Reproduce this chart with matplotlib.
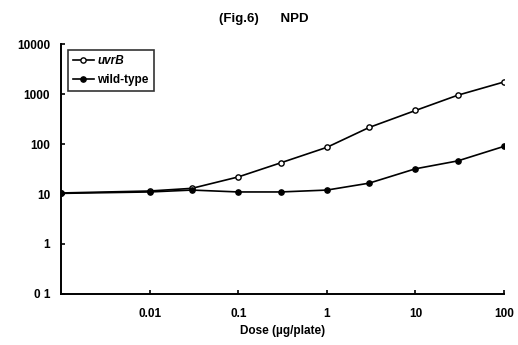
import numpy as np
import matplotlib
matplotlib.use("Agg")
import matplotlib.pyplot as plt

plt.rcParams['font.family'] = ['Liberation Sans', 'DejaVu Sans']

dose = [0.001, 0.01, 0.03, 0.1, 0.3, 1, 3, 10, 30, 100]
uvrB = [10.5, 11.5, 13, 22, 42, 86, 215, 470, 950, 1750]
wild_type = [10.3, 11, 12, 11, 11, 12, 16.5, 32, 46, 90]

yticks = [0.1, 1, 10, 100, 1000, 10000]
ytick_labels = ['0 1', '1', '10', '100', '1000', '10000']
xticks = [0.01, 0.1, 1, 10, 100]
xtick_labels = ['0.01', '0.1', '1', '10', '100']

fig = plt.figure(figsize=(5.18, 3.45), dpi=100)
ax = fig.add_axes([0.118, 0.148, 0.855, 0.724])

ax.plot(dose, uvrB, color='black', lw=1.2, marker='o', ms=3.8,
        mfc='white', mec='black', mew=1.0, label='uvrB')
ax.plot(dose, wild_type, color='black', lw=1.2, marker='o', ms=3.8,
        mfc='black', mec='black', label='wild-type')

ax.set_xscale('log')
ax.set_yscale('log')
ax.set_xlim(0.001, 100)
ax.set_ylim(0.1, 10000)
ax.set_xticks(xticks)
ax.set_xticklabels(xtick_labels)
ax.set_yticks(yticks)
ax.set_yticklabels(ytick_labels)
ax.minorticks_off()
ax.tick_params(direction='in', length=3, width=1.2, labelsize=8.5)
ax.tick_params(axis='x', pad=10)
ax.tick_params(axis='y', pad=8)
for lbl in ax.get_xticklabels() + ax.get_yticklabels():
    lbl.set_fontweight('bold')
for s in ['top', 'right']:
    ax.spines[s].set_visible(False)
for s in ['left', 'bottom']:
    ax.spines[s].set_linewidth(1.4)

ax.set_xlabel('Dose (\u00b5g/plate)', fontsize=8.5, fontweight='bold', labelpad=4)
fig.text(0.51, 0.945, '(Fig.6)      NPD', ha='center', va='center', fontsize=9.5,
         fontweight='bold')

leg = ax.legend(loc='upper left', bbox_to_anchor=(0.01, 0.985),
                prop={'size': 8.5, 'weight': 'bold'},
                frameon=True, fancybox=False, edgecolor='black',
                handlelength=1.8, handletextpad=0.3, borderpad=0.4,
                labelspacing=0.6, borderaxespad=0.2)
leg.get_frame().set_linewidth(1.2)
leg.get_texts()[0].set_style('italic')

fig.savefig('out.png', dpi=100)
